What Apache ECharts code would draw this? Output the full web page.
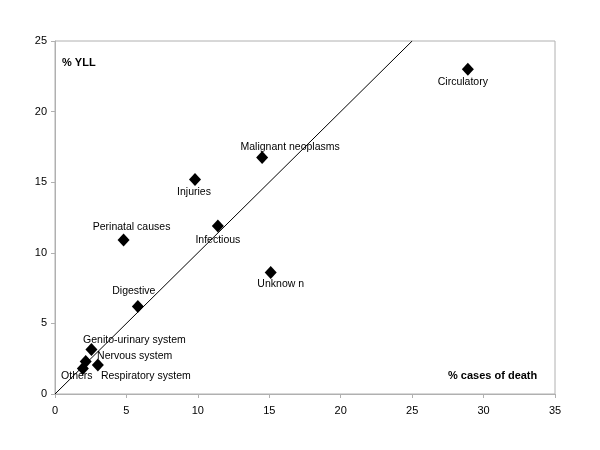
<!DOCTYPE html>
<html><head><meta charset="utf-8">
<script src="https://cdn.jsdelivr.net/npm/echarts@6/dist/echarts.min.js"></script>
<style>html,body{margin:0;padding:0;background:#fff}#c{width:600px;height:450px}</style>
</head><body><div id="c"></div>
<script>
var causes = ['Circulatory','Malignant neoplasms','Injuries','Infectious','Perinatal causes','Unknow n','Digestive','Genito-urinary system','Nervous system','Respiratory system','Others'];
var casesOfDeath = [28.9, 14.5, 9.8, 11.4, 4.8, 15.1, 5.8, 2.55, 2.15, 3.0, 1.95];
var yll = [23.0, 16.75, 15.2, 11.9, 10.9, 8.6, 6.2, 3.15, 2.3, 2.05, 1.8];
var refLineX = [0, 25];
var refLineY = [0, 25];
var xTicks = [0,5,10,15,20,25,30,35];
var yTicks = [0,5,10,15,20,25];

// label offsets (layout only), px relative to marker centre
var labelOffsets = [[-5,13],[28,-10],[-1,13],[0,14],[8,-13],[10,12],[-4,-15],[43,-9],[49,-5],[48,11],[-6,8]];

var font = 'Liberation Sans, Arial, sans-serif';
var pts = causes.map(function(n,i){
  return {value:[casesOfDeath[i], yll[i]], name:n,
    label:{show:true, position:'inside', offset:labelOffsets[i], formatter:n, color:'#000', opacity:1, fontSize:10.5, fontFamily:font}};
});
var chart = echarts.init(document.getElementById('c'), null, {renderer:'canvas'});
chart.setOption({
  animation:false,
  backgroundColor:'#fff',
  grid:{left:55, right:45, top:41, bottom:56, show:true, borderColor:'#b0b0b0', borderWidth:1, backgroundColor:'transparent'},
  xAxis:{type:'value', min:xTicks[0], max:xTicks[xTicks.length-1], interval:5,
    axisLine:{show:true, onZero:false, lineStyle:{color:'#b0b0b0'}},
    axisTick:{show:true, length:4, lineStyle:{color:'#b0b0b0'}},
    splitLine:{show:false},
    axisLabel:{color:'#000', fontSize:11, fontFamily:font, margin:11}},
  yAxis:{type:'value', min:yTicks[0], max:yTicks[yTicks.length-1], interval:5,
    axisLine:{show:true, onZero:false, lineStyle:{color:'#b0b0b0'}},
    axisTick:{show:true, length:4, lineStyle:{color:'#b0b0b0'}},
    splitLine:{show:false},
    axisLabel:{color:'#000', fontSize:11, fontFamily:font, margin:8}},
  graphic:[
    {type:'text', left:62, top:57, style:{text:'% YLL', font:'bold 11px Liberation Sans, Arial, sans-serif', fill:'#000'}},
    {type:'text', left:448, top:370, style:{text:'% cases of death', font:'bold 11px Liberation Sans, Arial, sans-serif', fill:'#000'}}
  ],
  series:[
    {type:'line', data:refLineX.map(function(x,i){return [x, refLineY[i]];}), symbol:'none',
      lineStyle:{color:'#000', width:1}, silent:true, z:1},
    {type:'scatter', data:pts, symbol:'diamond', symbolSize:[12,13],
      itemStyle:{color:'#000', opacity:1}, z:2}
  ]
});
</script></body></html>
